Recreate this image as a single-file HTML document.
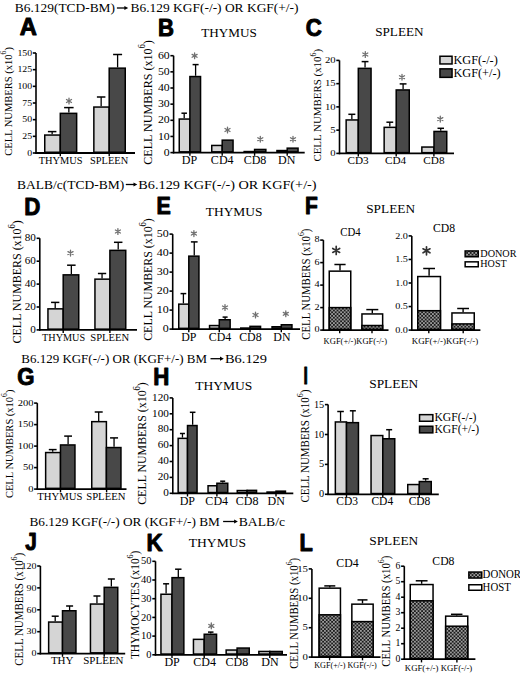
<!DOCTYPE html><html><head><meta charset="utf-8"><style>html,body{margin:0;padding:0;background:#fff;}svg{display:block;} text{stroke:none;}</style></head><body>
<svg width="520" height="673" viewBox="0 0 520 673">
<defs><pattern id="hatch" width="3.6" height="3.6" patternUnits="userSpaceOnUse"><rect width="3.6" height="3.6" fill="#1c1c1c"/><rect width="1.8" height="1.8" fill="#9a9a9a"/><rect x="1.8" y="1.8" width="1.8" height="1.8" fill="#9a9a9a"/></pattern></defs>
<rect width="520" height="673" fill="#fff"/>
<text transform="translate(14.8,12.3) scale(1,1.0)" font-size="13.5" text-anchor="start" font-family='"Liberation Serif", serif' font-weight="normal" fill="#000"  textLength="100.2" lengthAdjust="spacingAndGlyphs">B6.129(TCD-BM)</text>
<line x1="116.9" y1="8.0" x2="125.19999999999999" y2="8.0" stroke="#000" stroke-width="1.3"/>
<path d="M124.40,5.90L128.20,8.00L124.40,10.10Z" fill="#000"/>
<text transform="translate(130.6,12.3) scale(1,1.0)" font-size="13.5" text-anchor="start" font-family='"Liberation Serif", serif' font-weight="normal" fill="#000"  textLength="167.9" lengthAdjust="spacingAndGlyphs">B6.129 KGF(-/-) OR KGF(+/-)</text>
<text transform="translate(19.72,35.00) scale(1.019,1)" font-size="23.27" font-family='"Liberation Sans", sans-serif' font-weight="bold" style="stroke:#000;stroke-width:1.0px;stroke-linejoin:round">A</text>
<line x1="36" y1="53.0" x2="36" y2="153.8" stroke="#000" stroke-width="1.6"/>
<line x1="32.8" y1="153.0" x2="36" y2="153.0" stroke="#000" stroke-width="1.6"/>
<text transform="translate(32.10,155.64) scale(1,0.92)" font-size="9.8" text-anchor="end" font-family='"Liberation Serif", serif' font-weight="normal" fill="#000" >0</text>
<line x1="32.8" y1="136.33333333333334" x2="36" y2="136.33333333333334" stroke="#000" stroke-width="1.6"/>
<text transform="translate(32.10,138.98) scale(1,0.92)" font-size="9.8" text-anchor="end" font-family='"Liberation Serif", serif' font-weight="normal" fill="#000" >25</text>
<line x1="32.8" y1="119.66666666666667" x2="36" y2="119.66666666666667" stroke="#000" stroke-width="1.6"/>
<text transform="translate(32.10,122.31) scale(1,0.92)" font-size="9.8" text-anchor="end" font-family='"Liberation Serif", serif' font-weight="normal" fill="#000" >50</text>
<line x1="32.8" y1="103.0" x2="36" y2="103.0" stroke="#000" stroke-width="1.6"/>
<text transform="translate(32.10,105.64) scale(1,0.92)" font-size="9.8" text-anchor="end" font-family='"Liberation Serif", serif' font-weight="normal" fill="#000" >75</text>
<line x1="32.8" y1="86.33333333333334" x2="36" y2="86.33333333333334" stroke="#000" stroke-width="1.6"/>
<text transform="translate(32.10,88.98) scale(1,0.92)" font-size="9.8" text-anchor="end" font-family='"Liberation Serif", serif' font-weight="normal" fill="#000" >100</text>
<line x1="32.8" y1="69.66666666666667" x2="36" y2="69.66666666666667" stroke="#000" stroke-width="1.6"/>
<text transform="translate(32.10,72.31) scale(1,0.92)" font-size="9.8" text-anchor="end" font-family='"Liberation Serif", serif' font-weight="normal" fill="#000" >125</text>
<line x1="32.8" y1="53.0" x2="36" y2="53.0" stroke="#000" stroke-width="1.6"/>
<text transform="translate(32.10,55.64) scale(1,0.92)" font-size="9.8" text-anchor="end" font-family='"Liberation Serif", serif' font-weight="normal" fill="#000" >150</text>
<rect x="44.75" y="135.05" width="15.55" height="17.20" fill="#d5d5d5" stroke="#000" stroke-width="1.5"/><line x1="52.15" y1="134.3" x2="52.15" y2="131.6" stroke="#000" stroke-width="1.3"/><line x1="47.90" y1="131.6" x2="56.40" y2="131.6" stroke="#000" stroke-width="1.5"/>
<rect x="60.30" y="113.35" width="16.35" height="38.90" fill="#484848" stroke="#000" stroke-width="1.5"/><line x1="68.85" y1="112.6" x2="68.85" y2="107.6" stroke="#000" stroke-width="1.3"/><line x1="64.10" y1="107.6" x2="73.60" y2="107.6" stroke="#000" stroke-width="1.5"/>
<rect x="93.85" y="107.05" width="15.35" height="45.20" fill="#d5d5d5" stroke="#000" stroke-width="1.5"/><line x1="101.15" y1="106.3" x2="101.15" y2="97" stroke="#000" stroke-width="1.3"/><line x1="96.90" y1="97" x2="105.40" y2="97" stroke="#000" stroke-width="1.5"/>
<rect x="109.20" y="68.15" width="16.05" height="84.10" fill="#484848" stroke="#000" stroke-width="1.5"/><line x1="117.60" y1="67.4" x2="117.60" y2="54.5" stroke="#000" stroke-width="1.3"/><line x1="113.10" y1="54.5" x2="122.10" y2="54.5" stroke="#000" stroke-width="1.5"/>
<line x1="35.2" y1="153" x2="135" y2="153" stroke="#000" stroke-width="1.8"/>
<line x1="60.3" y1="153" x2="60.3" y2="156.2" stroke="#000" stroke-width="1.4"/>
<line x1="109.2" y1="153" x2="109.2" y2="156.2" stroke="#000" stroke-width="1.4"/>
<path d="M69.00,98.10L69.00,103.90M66.49,99.55L71.51,102.45M66.49,102.45L71.51,99.55" stroke="#707070" stroke-width="1.3" stroke-linecap="round" fill="none"/>
<text transform="translate(60.7,163.5) scale(1,1.0)" font-size="10.4" text-anchor="middle" font-family='"Liberation Serif", serif' font-weight="normal" fill="#000" >THYMUS</text>
<text transform="translate(109.1,163.5) scale(1,1.0)" font-size="10.4" text-anchor="middle" font-family='"Liberation Serif", serif' font-weight="normal" fill="#000" >SPLEEN</text>
<g transform="translate(8.00,101.45) rotate(-90) scale(1,1.03)">
<text x="0" y="3.47" font-size="10.53" text-anchor="middle" font-family='"Liberation Serif", serif' textLength="108.70" lengthAdjust="spacingAndGlyphs">CELL NUMBERS (x10<tspan font-size="7.58" dy="-5.05">6</tspan><tspan dy="5.05">)</tspan></text>
</g>
<text transform="translate(157.88,36.00) scale(0.931,1)" font-size="23.71" font-family='"Liberation Sans", sans-serif' font-weight="bold" style="stroke:#000;stroke-width:1.0px;stroke-linejoin:round">B</text>
<text transform="translate(201.27,36.7) scale(1,0.997)" font-size="13.17" text-anchor="start" font-family='"Liberation Serif", serif' font-weight="normal" fill="#000" >THYMUS</text>
<line x1="173.6" y1="55.7" x2="173.6" y2="153.4" stroke="#000" stroke-width="1.6"/>
<line x1="170.4" y1="152.6" x2="173.6" y2="152.6" stroke="#000" stroke-width="1.6"/>
<text transform="translate(169.70,155.66) scale(1,0.87)" font-size="11.8" text-anchor="end" font-family='"Liberation Serif", serif' font-weight="normal" fill="#000" >0</text>
<line x1="170.4" y1="136.45" x2="173.6" y2="136.45" stroke="#000" stroke-width="1.6"/>
<text transform="translate(169.70,139.51) scale(1,0.87)" font-size="11.8" text-anchor="end" font-family='"Liberation Serif", serif' font-weight="normal" fill="#000" >10</text>
<line x1="170.4" y1="120.3" x2="173.6" y2="120.3" stroke="#000" stroke-width="1.6"/>
<text transform="translate(169.70,123.36) scale(1,0.87)" font-size="11.8" text-anchor="end" font-family='"Liberation Serif", serif' font-weight="normal" fill="#000" >20</text>
<line x1="170.4" y1="104.15" x2="173.6" y2="104.15" stroke="#000" stroke-width="1.6"/>
<text transform="translate(169.70,107.21) scale(1,0.87)" font-size="11.8" text-anchor="end" font-family='"Liberation Serif", serif' font-weight="normal" fill="#000" >30</text>
<line x1="170.4" y1="88.0" x2="173.6" y2="88.0" stroke="#000" stroke-width="1.6"/>
<text transform="translate(169.70,91.06) scale(1,0.87)" font-size="11.8" text-anchor="end" font-family='"Liberation Serif", serif' font-weight="normal" fill="#000" >40</text>
<line x1="170.4" y1="71.85000000000001" x2="173.6" y2="71.85000000000001" stroke="#000" stroke-width="1.6"/>
<text transform="translate(169.70,74.91) scale(1,0.87)" font-size="11.8" text-anchor="end" font-family='"Liberation Serif", serif' font-weight="normal" fill="#000" >50</text>
<line x1="170.4" y1="55.7" x2="173.6" y2="55.7" stroke="#000" stroke-width="1.6"/>
<text transform="translate(169.70,58.76) scale(1,0.87)" font-size="11.8" text-anchor="end" font-family='"Liberation Serif", serif' font-weight="normal" fill="#000" >60</text>
<rect x="179.25" y="119.05" width="10.65" height="32.80" fill="#d5d5d5" stroke="#000" stroke-width="1.5"/><line x1="184.20" y1="118.3" x2="184.20" y2="113.2" stroke="#000" stroke-width="1.3"/><line x1="181.45" y1="113.2" x2="186.95" y2="113.2" stroke="#000" stroke-width="1.5"/>
<rect x="189.90" y="76.55" width="10.65" height="75.30" fill="#484848" stroke="#000" stroke-width="1.5"/><line x1="195.60" y1="75.8" x2="195.60" y2="64.6" stroke="#000" stroke-width="1.3"/><line x1="192.60" y1="64.6" x2="198.60" y2="64.6" stroke="#000" stroke-width="1.5"/>
<rect x="211.75" y="145.45" width="10.45" height="6.40" fill="#d5d5d5" stroke="#000" stroke-width="1.5"/>
<rect x="222.20" y="140.15" width="10.85" height="11.70" fill="#484848" stroke="#000" stroke-width="1.5"/>
<rect x="244.15" y="151.55" width="10.45" height="0.30" fill="#d5d5d5" stroke="#000" stroke-width="1.5"/>
<rect x="254.60" y="149.45" width="11.25" height="2.40" fill="#484848" stroke="#000" stroke-width="1.5"/>
<rect x="276.95" y="150.55" width="10.25" height="1.30" fill="#d5d5d5" stroke="#000" stroke-width="1.5"/>
<rect x="287.20" y="148.15" width="10.85" height="3.70" fill="#484848" stroke="#000" stroke-width="1.5"/>
<line x1="172.79999999999998" y1="152.6" x2="304.7" y2="152.6" stroke="#000" stroke-width="1.8"/>
<line x1="189.9" y1="152.6" x2="189.9" y2="155.79999999999998" stroke="#000" stroke-width="1.4"/>
<line x1="222.2" y1="152.6" x2="222.2" y2="155.79999999999998" stroke="#000" stroke-width="1.4"/>
<line x1="254.6" y1="152.6" x2="254.6" y2="155.79999999999998" stroke="#000" stroke-width="1.4"/>
<line x1="287.2" y1="152.6" x2="287.2" y2="155.79999999999998" stroke="#000" stroke-width="1.4"/>
<path d="M194.60,52.90L194.60,58.70M192.09,54.35L197.11,57.25M192.09,57.25L197.11,54.35" stroke="#707070" stroke-width="1.3" stroke-linecap="round" fill="none"/>
<path d="M227.50,127.10L227.50,132.90M224.99,128.55L230.01,131.45M224.99,131.45L230.01,128.55" stroke="#707070" stroke-width="1.3" stroke-linecap="round" fill="none"/>
<path d="M260.30,136.30L260.30,142.10M257.79,137.75L262.81,140.65M257.79,140.65L262.81,137.75" stroke="#707070" stroke-width="1.3" stroke-linecap="round" fill="none"/>
<path d="M293.00,136.30L293.00,142.10M290.49,137.75L295.51,140.65M290.49,140.65L295.51,137.75" stroke="#707070" stroke-width="1.3" stroke-linecap="round" fill="none"/>
<text transform="translate(189.5,164.2) scale(1,1.0)" font-size="12" text-anchor="middle" font-family='"Liberation Serif", serif' font-weight="normal" fill="#000" >DP</text>
<text transform="translate(222.2,164.2) scale(1,1.0)" font-size="12" text-anchor="middle" font-family='"Liberation Serif", serif' font-weight="normal" fill="#000" >CD4</text>
<text transform="translate(255,164.2) scale(1,1.0)" font-size="12" text-anchor="middle" font-family='"Liberation Serif", serif' font-weight="normal" fill="#000" >CD8</text>
<text transform="translate(286.7,164.2) scale(1,1.0)" font-size="12" text-anchor="middle" font-family='"Liberation Serif", serif' font-weight="normal" fill="#000" >DN</text>
<g transform="translate(147.40,102.40) rotate(-90) scale(1,1.12)">
<text x="0" y="3.98" font-size="12.07" text-anchor="middle" font-family='"Liberation Serif", serif' textLength="124.60" lengthAdjust="spacingAndGlyphs">CELL NUMBERS (x10<tspan font-size="8.69" dy="-5.79">6</tspan><tspan dy="5.79">)</tspan></text>
</g>
<text transform="translate(305.77,35.76) scale(0.926,1)" font-size="24.03" font-family='"Liberation Sans", sans-serif' font-weight="bold" style="stroke:#000;stroke-width:1.0px;stroke-linejoin:round">C</text>
<text transform="translate(375.21,35.6) scale(1,0.927)" font-size="13.19" text-anchor="start" font-family='"Liberation Serif", serif' font-weight="normal" fill="#000" >SPLEEN</text>
<line x1="339.5" y1="60.400000000000006" x2="339.5" y2="154.20000000000002" stroke="#000" stroke-width="1.6"/>
<line x1="336.3" y1="153.4" x2="339.5" y2="153.4" stroke="#000" stroke-width="1.6"/>
<text transform="translate(335.60,156.07) scale(1,0.85)" font-size="10.7" text-anchor="end" font-family='"Liberation Serif", serif' font-weight="normal" fill="#000" >0</text>
<line x1="336.3" y1="130.15" x2="339.5" y2="130.15" stroke="#000" stroke-width="1.6"/>
<text transform="translate(335.60,132.82) scale(1,0.85)" font-size="10.7" text-anchor="end" font-family='"Liberation Serif", serif' font-weight="normal" fill="#000" >5</text>
<line x1="336.3" y1="106.9" x2="339.5" y2="106.9" stroke="#000" stroke-width="1.6"/>
<text transform="translate(335.60,109.57) scale(1,0.85)" font-size="10.7" text-anchor="end" font-family='"Liberation Serif", serif' font-weight="normal" fill="#000" >10</text>
<line x1="336.3" y1="83.65" x2="339.5" y2="83.65" stroke="#000" stroke-width="1.6"/>
<text transform="translate(335.60,86.32) scale(1,0.85)" font-size="10.7" text-anchor="end" font-family='"Liberation Serif", serif' font-weight="normal" fill="#000" >15</text>
<line x1="336.3" y1="60.400000000000006" x2="339.5" y2="60.400000000000006" stroke="#000" stroke-width="1.6"/>
<text transform="translate(335.60,63.07) scale(1,0.85)" font-size="10.7" text-anchor="end" font-family='"Liberation Serif", serif' font-weight="normal" fill="#000" >20</text>
<rect x="346.15" y="119.95" width="12.15" height="32.70" fill="#d5d5d5" stroke="#000" stroke-width="1.5"/><line x1="351.85" y1="119.2" x2="351.85" y2="114.3" stroke="#000" stroke-width="1.3"/><line x1="348.35" y1="114.3" x2="355.35" y2="114.3" stroke="#000" stroke-width="1.5"/>
<rect x="358.30" y="68.35" width="12.75" height="84.30" fill="#484848" stroke="#000" stroke-width="1.5"/><line x1="365.05" y1="67.6" x2="365.05" y2="61.6" stroke="#000" stroke-width="1.3"/><line x1="361.65" y1="61.6" x2="368.45" y2="61.6" stroke="#000" stroke-width="1.5"/>
<rect x="384.15" y="127.35" width="12.05" height="25.30" fill="#d5d5d5" stroke="#000" stroke-width="1.5"/><line x1="389.80" y1="126.6" x2="389.80" y2="122.2" stroke="#000" stroke-width="1.3"/><line x1="386.40" y1="122.2" x2="393.20" y2="122.2" stroke="#000" stroke-width="1.5"/>
<rect x="396.20" y="89.95" width="13.05" height="62.70" fill="#484848" stroke="#000" stroke-width="1.5"/><line x1="403.10" y1="89.2" x2="403.10" y2="83.9" stroke="#000" stroke-width="1.3"/><line x1="399.70" y1="83.9" x2="406.50" y2="83.9" stroke="#000" stroke-width="1.5"/>
<rect x="421.85" y="147.05" width="12.15" height="5.60" fill="#d5d5d5" stroke="#000" stroke-width="1.5"/>
<rect x="434.00" y="131.45" width="12.75" height="21.20" fill="#484848" stroke="#000" stroke-width="1.5"/><line x1="440.75" y1="130.7" x2="440.75" y2="128.3" stroke="#000" stroke-width="1.3"/><line x1="437.50" y1="128.3" x2="444.00" y2="128.3" stroke="#000" stroke-width="1.5"/>
<line x1="338.8" y1="153.4" x2="454" y2="153.4" stroke="#000" stroke-width="1.8"/>
<line x1="358.3" y1="153.4" x2="358.3" y2="156.6" stroke="#000" stroke-width="1.4"/>
<line x1="396.2" y1="153.4" x2="396.2" y2="156.6" stroke="#000" stroke-width="1.4"/>
<line x1="433.9" y1="153.4" x2="433.9" y2="156.6" stroke="#000" stroke-width="1.4"/>
<path d="M365.30,51.60L365.30,57.40M362.79,53.05L367.81,55.95M362.79,55.95L367.81,53.05" stroke="#707070" stroke-width="1.3" stroke-linecap="round" fill="none"/>
<path d="M402.00,74.30L402.00,80.10M399.49,75.75L404.51,78.65M399.49,78.65L404.51,75.75" stroke="#707070" stroke-width="1.3" stroke-linecap="round" fill="none"/>
<path d="M440.30,116.20L440.30,122.00M437.79,117.65L442.81,120.55M437.79,120.55L442.81,117.65" stroke="#707070" stroke-width="1.3" stroke-linecap="round" fill="none"/>
<text transform="translate(358,164.4) scale(1,1.0)" font-size="11.2" text-anchor="middle" font-family='"Liberation Serif", serif' font-weight="normal" fill="#000" >CD3</text>
<text transform="translate(395.6,164.4) scale(1,1.0)" font-size="11.2" text-anchor="middle" font-family='"Liberation Serif", serif' font-weight="normal" fill="#000" >CD4</text>
<text transform="translate(433.9,164.4) scale(1,1.0)" font-size="11.2" text-anchor="middle" font-family='"Liberation Serif", serif' font-weight="normal" fill="#000" >CD8</text>
<rect x="439.95" y="56.25" width="12.10" height="7.70" fill="#d5d5d5" stroke="#000" stroke-width="1.5"/>
<rect x="439.95" y="68.85" width="12.10" height="8.50" fill="#484848" stroke="#000" stroke-width="1.5"/>
<text transform="translate(453.4,64.2) scale(1,1.0)" font-size="12.3" text-anchor="start" font-family='"Liberation Serif", serif' font-weight="normal" fill="#000" >KGF(-/-)</text>
<text transform="translate(453.4,76.6) scale(1,1.0)" font-size="12.3" text-anchor="start" font-family='"Liberation Serif", serif' font-weight="normal" fill="#000" >KGF(+/-)</text>
<g transform="translate(317.40,105.25) rotate(-90) scale(1,1.03)">
<text x="0" y="3.60" font-size="10.92" text-anchor="middle" font-family='"Liberation Serif", serif' textLength="112.70" lengthAdjust="spacingAndGlyphs">CELL NUMBERS (x10<tspan font-size="7.86" dy="-5.24">6</tspan><tspan dy="5.24">)</tspan></text>
</g>
<text transform="translate(17,188.8) scale(1,1.0)" font-size="13.5" text-anchor="start" font-family='"Liberation Serif", serif' font-weight="normal" fill="#000"  textLength="107.2" lengthAdjust="spacingAndGlyphs">BALB/c(TCD-BM)</text>
<line x1="125.8" y1="184.5" x2="134.3" y2="184.5" stroke="#000" stroke-width="1.3"/>
<path d="M133.50,182.40L137.30,184.50L133.50,186.60Z" fill="#000"/>
<text transform="translate(138.3,188.8) scale(1,1.0)" font-size="13.5" text-anchor="start" font-family='"Liberation Serif", serif' font-weight="normal" fill="#000"  textLength="178.3" lengthAdjust="spacingAndGlyphs">B6.129 KGF(-/-) OR KGF(+/-)</text>
<text transform="translate(24.16,214.80) scale(0.935,1)" font-size="23.85" font-family='"Liberation Sans", sans-serif' font-weight="bold" style="stroke:#000;stroke-width:1.0px;stroke-linejoin:round">D</text>
<line x1="39.8" y1="238.29999999999998" x2="39.8" y2="330.7" stroke="#000" stroke-width="1.6"/>
<line x1="36.599999999999994" y1="329.9" x2="39.8" y2="329.9" stroke="#000" stroke-width="1.6"/>
<text transform="translate(35.90,332.83) scale(1,0.88)" font-size="11.2" text-anchor="end" font-family='"Liberation Serif", serif' font-weight="normal" fill="#000" >0</text>
<line x1="36.599999999999994" y1="307.0" x2="39.8" y2="307.0" stroke="#000" stroke-width="1.6"/>
<text transform="translate(35.90,309.93) scale(1,0.88)" font-size="11.2" text-anchor="end" font-family='"Liberation Serif", serif' font-weight="normal" fill="#000" >20</text>
<line x1="36.599999999999994" y1="284.09999999999997" x2="39.8" y2="284.09999999999997" stroke="#000" stroke-width="1.6"/>
<text transform="translate(35.90,287.03) scale(1,0.88)" font-size="11.2" text-anchor="end" font-family='"Liberation Serif", serif' font-weight="normal" fill="#000" >40</text>
<line x1="36.599999999999994" y1="261.2" x2="39.8" y2="261.2" stroke="#000" stroke-width="1.6"/>
<text transform="translate(35.90,264.13) scale(1,0.88)" font-size="11.2" text-anchor="end" font-family='"Liberation Serif", serif' font-weight="normal" fill="#000" >60</text>
<line x1="36.599999999999994" y1="238.29999999999998" x2="39.8" y2="238.29999999999998" stroke="#000" stroke-width="1.6"/>
<text transform="translate(35.90,241.23) scale(1,0.88)" font-size="11.2" text-anchor="end" font-family='"Liberation Serif", serif' font-weight="normal" fill="#000" >80</text>
<rect x="47.95" y="308.85" width="15.25" height="20.30" fill="#d5d5d5" stroke="#000" stroke-width="1.5"/><line x1="55.20" y1="308.1" x2="55.20" y2="302.4" stroke="#000" stroke-width="1.3"/><line x1="51.05" y1="302.4" x2="59.35" y2="302.4" stroke="#000" stroke-width="1.5"/>
<rect x="63.20" y="274.85" width="15.55" height="54.30" fill="#484848" stroke="#000" stroke-width="1.5"/><line x1="71.35" y1="274.1" x2="71.35" y2="265.2" stroke="#000" stroke-width="1.3"/><line x1="67.10" y1="265.2" x2="75.60" y2="265.2" stroke="#000" stroke-width="1.5"/>
<rect x="94.95" y="279.15" width="14.95" height="50.00" fill="#d5d5d5" stroke="#000" stroke-width="1.5"/><line x1="102.05" y1="278.4" x2="102.05" y2="273.5" stroke="#000" stroke-width="1.3"/><line x1="97.90" y1="273.5" x2="106.20" y2="273.5" stroke="#000" stroke-width="1.5"/>
<rect x="109.90" y="250.35" width="15.85" height="78.80" fill="#484848" stroke="#000" stroke-width="1.5"/><line x1="118.20" y1="249.6" x2="118.20" y2="242.3" stroke="#000" stroke-width="1.3"/><line x1="113.95" y1="242.3" x2="122.45" y2="242.3" stroke="#000" stroke-width="1.5"/>
<line x1="39.0" y1="329.9" x2="137" y2="329.9" stroke="#000" stroke-width="1.8"/>
<line x1="63.2" y1="329.9" x2="63.2" y2="333.09999999999997" stroke="#000" stroke-width="1.4"/>
<line x1="109.9" y1="329.9" x2="109.9" y2="333.09999999999997" stroke="#000" stroke-width="1.4"/>
<path d="M70.50,250.20L70.50,256.00M67.99,251.65L73.01,254.55M67.99,254.55L73.01,251.65" stroke="#707070" stroke-width="1.3" stroke-linecap="round" fill="none"/>
<path d="M117.90,228.60L117.90,234.40M115.39,230.05L120.41,232.95M115.39,232.95L120.41,230.05" stroke="#707070" stroke-width="1.3" stroke-linecap="round" fill="none"/>
<text transform="translate(63.6,341.1) scale(1,1.0)" font-size="10.2" text-anchor="middle" font-family='"Liberation Serif", serif' font-weight="normal" fill="#000" >THYMUS</text>
<text transform="translate(109.75,341.1) scale(1,1.0)" font-size="10.6" text-anchor="middle" font-family='"Liberation Serif", serif' font-weight="normal" fill="#000" >SPLEEN</text>
<g transform="translate(16.50,281.80) rotate(-90) scale(1,1.12)">
<text x="0" y="3.94" font-size="11.93" text-anchor="middle" font-family='"Liberation Serif", serif' textLength="123.20" lengthAdjust="spacingAndGlyphs">CELL NUMBERS (x10<tspan font-size="8.59" dy="-5.73">6</tspan><tspan dy="5.73">)</tspan></text>
</g>
<text transform="translate(156.61,213.50) scale(0.914,1)" font-size="23.42" font-family='"Liberation Sans", sans-serif' font-weight="bold" style="stroke:#000;stroke-width:1.0px;stroke-linejoin:round">E</text>
<text transform="translate(205.77,215.5) scale(1,0.911)" font-size="13.41" text-anchor="start" font-family='"Liberation Serif", serif' font-weight="normal" fill="#000" >THYMUS</text>
<line x1="172.7" y1="234.10000000000002" x2="172.7" y2="329.90000000000003" stroke="#000" stroke-width="1.6"/>
<line x1="169.5" y1="329.1" x2="172.7" y2="329.1" stroke="#000" stroke-width="1.6"/>
<text transform="translate(168.80,332.18) scale(1,0.86)" font-size="12.0" text-anchor="end" font-family='"Liberation Serif", serif' font-weight="normal" fill="#000" >0</text>
<line x1="169.5" y1="310.1" x2="172.7" y2="310.1" stroke="#000" stroke-width="1.6"/>
<text transform="translate(168.80,313.18) scale(1,0.86)" font-size="12.0" text-anchor="end" font-family='"Liberation Serif", serif' font-weight="normal" fill="#000" >10</text>
<line x1="169.5" y1="291.1" x2="172.7" y2="291.1" stroke="#000" stroke-width="1.6"/>
<text transform="translate(168.80,294.18) scale(1,0.86)" font-size="12.0" text-anchor="end" font-family='"Liberation Serif", serif' font-weight="normal" fill="#000" >20</text>
<line x1="169.5" y1="272.1" x2="172.7" y2="272.1" stroke="#000" stroke-width="1.6"/>
<text transform="translate(168.80,275.18) scale(1,0.86)" font-size="12.0" text-anchor="end" font-family='"Liberation Serif", serif' font-weight="normal" fill="#000" >30</text>
<line x1="169.5" y1="253.10000000000002" x2="172.7" y2="253.10000000000002" stroke="#000" stroke-width="1.6"/>
<text transform="translate(168.80,256.18) scale(1,0.86)" font-size="12.0" text-anchor="end" font-family='"Liberation Serif", serif' font-weight="normal" fill="#000" >40</text>
<line x1="169.5" y1="234.10000000000002" x2="172.7" y2="234.10000000000002" stroke="#000" stroke-width="1.6"/>
<text transform="translate(168.80,237.18) scale(1,0.86)" font-size="12.0" text-anchor="end" font-family='"Liberation Serif", serif' font-weight="normal" fill="#000" >50</text>
<rect x="178.75" y="304.15" width="10.05" height="24.20" fill="#d5d5d5" stroke="#000" stroke-width="1.5"/><line x1="183.40" y1="303.4" x2="183.40" y2="293.6" stroke="#000" stroke-width="1.3"/><line x1="180.55" y1="293.6" x2="186.25" y2="293.6" stroke="#000" stroke-width="1.5"/>
<rect x="188.80" y="256.15" width="10.15" height="72.20" fill="#484848" stroke="#000" stroke-width="1.5"/><line x1="194.25" y1="255.4" x2="194.25" y2="241.9" stroke="#000" stroke-width="1.3"/><line x1="190.90" y1="241.9" x2="197.60" y2="241.9" stroke="#000" stroke-width="1.5"/>
<rect x="209.55" y="325.55" width="9.75" height="2.80" fill="#d5d5d5" stroke="#000" stroke-width="1.5"/>
<rect x="219.30" y="319.75" width="10.85" height="8.60" fill="#484848" stroke="#000" stroke-width="1.5"/><line x1="225.10" y1="319" x2="225.10" y2="317.1" stroke="#000" stroke-width="1.3"/><line x1="222.60" y1="317.1" x2="227.60" y2="317.1" stroke="#000" stroke-width="1.5"/>
<rect x="240.75" y="328.05" width="9.25" height="0.30" fill="#d5d5d5" stroke="#000" stroke-width="1.5"/>
<rect x="250.00" y="326.35" width="10.55" height="2.00" fill="#484848" stroke="#000" stroke-width="1.5"/>
<rect x="272.05" y="326.75" width="9.25" height="1.60" fill="#d5d5d5" stroke="#000" stroke-width="1.5"/>
<rect x="281.30" y="324.75" width="10.65" height="3.60" fill="#484848" stroke="#000" stroke-width="1.5"/>
<line x1="171.89999999999998" y1="329.1" x2="300" y2="329.1" stroke="#000" stroke-width="1.8"/>
<line x1="188.8" y1="329.1" x2="188.8" y2="332.3" stroke="#000" stroke-width="1.4"/>
<line x1="219.3" y1="329.1" x2="219.3" y2="332.3" stroke="#000" stroke-width="1.4"/>
<line x1="250" y1="329.1" x2="250" y2="332.3" stroke="#000" stroke-width="1.4"/>
<line x1="281.3" y1="329.1" x2="281.3" y2="332.3" stroke="#000" stroke-width="1.4"/>
<path d="M193.90,230.70L193.90,236.50M191.39,232.15L196.41,235.05M191.39,235.05L196.41,232.15" stroke="#707070" stroke-width="1.3" stroke-linecap="round" fill="none"/>
<path d="M225.00,304.60L225.00,310.40M222.49,306.05L227.51,308.95M222.49,308.95L227.51,306.05" stroke="#707070" stroke-width="1.3" stroke-linecap="round" fill="none"/>
<path d="M255.50,312.10L255.50,317.90M252.99,313.55L258.01,316.45M252.99,316.45L258.01,313.55" stroke="#707070" stroke-width="1.3" stroke-linecap="round" fill="none"/>
<path d="M285.80,310.90L285.80,316.70M283.29,312.35L288.31,315.25M283.29,315.25L288.31,312.35" stroke="#707070" stroke-width="1.3" stroke-linecap="round" fill="none"/>
<text transform="translate(188.8,340.5) scale(1,1.0)" font-size="11.9" text-anchor="middle" font-family='"Liberation Serif", serif' font-weight="normal" fill="#000" >DP</text>
<text transform="translate(220,340.5) scale(1,1.0)" font-size="11.9" text-anchor="middle" font-family='"Liberation Serif", serif' font-weight="normal" fill="#000" >CD4</text>
<text transform="translate(250.4,340.5) scale(1,1.0)" font-size="11.9" text-anchor="middle" font-family='"Liberation Serif", serif' font-weight="normal" fill="#000" >CD8</text>
<text transform="translate(281.9,340.5) scale(1,1.0)" font-size="11.9" text-anchor="middle" font-family='"Liberation Serif", serif' font-weight="normal" fill="#000" >DN</text>
<g transform="translate(147.50,279.50) rotate(-90) scale(1,1.12)">
<text x="0" y="3.92" font-size="11.88" text-anchor="middle" font-family='"Liberation Serif", serif' textLength="122.60" lengthAdjust="spacingAndGlyphs">CELL NUMBERS (x10<tspan font-size="8.55" dy="-5.70">6</tspan><tspan dy="5.70">)</tspan></text>
</g>
<text transform="translate(305.02,213.60) scale(0.873,1)" font-size="24.00" font-family='"Liberation Sans", sans-serif' font-weight="bold" style="stroke:#000;stroke-width:1.0px;stroke-linejoin:round">F</text>
<text transform="translate(366.2,212.8) scale(1,0.872)" font-size="13.33" text-anchor="start" font-family='"Liberation Serif", serif' font-weight="normal" fill="#000" >SPLEEN</text>
<text transform="translate(350.45,235.6) scale(1,1.07)" font-size="10.8" text-anchor="middle" font-family='"Liberation Serif", serif' font-weight="normal" fill="#000" >CD4</text>
<line x1="323.4" y1="240.10000000000002" x2="323.4" y2="330.90000000000003" stroke="#000" stroke-width="1.6"/>
<line x1="320.2" y1="330.1" x2="323.4" y2="330.1" stroke="#000" stroke-width="1.6"/>
<text transform="translate(319.50,332.45) scale(1,0.8)" font-size="10.2" text-anchor="end" font-family='"Liberation Serif", serif' font-weight="normal" fill="#000" >0</text>
<line x1="320.2" y1="307.6" x2="323.4" y2="307.6" stroke="#000" stroke-width="1.6"/>
<text transform="translate(319.50,309.95) scale(1,0.8)" font-size="10.2" text-anchor="end" font-family='"Liberation Serif", serif' font-weight="normal" fill="#000" >2</text>
<line x1="320.2" y1="285.1" x2="323.4" y2="285.1" stroke="#000" stroke-width="1.6"/>
<text transform="translate(319.50,287.45) scale(1,0.8)" font-size="10.2" text-anchor="end" font-family='"Liberation Serif", serif' font-weight="normal" fill="#000" >4</text>
<line x1="320.2" y1="262.6" x2="323.4" y2="262.6" stroke="#000" stroke-width="1.6"/>
<text transform="translate(319.50,264.95) scale(1,0.8)" font-size="10.2" text-anchor="end" font-family='"Liberation Serif", serif' font-weight="normal" fill="#000" >6</text>
<line x1="320.2" y1="240.10000000000002" x2="323.4" y2="240.10000000000002" stroke="#000" stroke-width="1.6"/>
<text transform="translate(319.50,242.45) scale(1,0.8)" font-size="10.2" text-anchor="end" font-family='"Liberation Serif", serif' font-weight="normal" fill="#000" >8</text>
<rect x="329.25" y="271.15" width="21.50" height="58.20" fill="#fff" stroke="#000" stroke-width="1.5"/>
<rect x="329.25" y="307.60" width="21.50" height="21.75" fill="url(#hatch)" stroke="#000" stroke-width="1.5"/>
<line x1="340.0" y1="270.4" x2="340.0" y2="264.5" stroke="#000" stroke-width="1.4"/>
<line x1="334.4" y1="264.5" x2="345.6" y2="264.5" stroke="#000" stroke-width="1.5"/>
<rect x="361.95" y="313.95" width="20.70" height="15.40" fill="#fff" stroke="#000" stroke-width="1.5"/>
<rect x="361.95" y="325.50" width="20.70" height="3.85" fill="url(#hatch)" stroke="#000" stroke-width="1.5"/>
<line x1="372.29999999999995" y1="313.2" x2="372.29999999999995" y2="309.6" stroke="#000" stroke-width="1.4"/>
<line x1="366.29999999999995" y1="309.6" x2="378.29999999999995" y2="309.6" stroke="#000" stroke-width="1.5"/>
<line x1="322.59999999999997" y1="330.1" x2="388.5" y2="330.1" stroke="#000" stroke-width="1.8"/>
<line x1="339.7" y1="330.1" x2="339.7" y2="333.3" stroke="#000" stroke-width="1.4"/>
<line x1="372" y1="330.1" x2="372" y2="333.3" stroke="#000" stroke-width="1.4"/>
<path d="M336.20,246.40L336.20,254.40M332.74,248.40L339.66,252.40M332.74,252.40L339.66,248.40" stroke="#333" stroke-width="1.7" stroke-linecap="round" fill="none"/>
<text transform="translate(323.6,344) scale(1,1.0)" font-size="8.8" text-anchor="start" font-family='"Liberation Serif", serif' font-weight="normal" fill="#000"  textLength="63.4" lengthAdjust="spacingAndGlyphs">KGF(+/-)KGF(-/-)</text>
<g transform="translate(306.00,284.15) rotate(-90) scale(1,1.12)">
<text x="0" y="3.55" font-size="10.76" text-anchor="middle" font-family='"Liberation Serif", serif' textLength="111.10" lengthAdjust="spacingAndGlyphs">CELL NUMBERS (x10<tspan font-size="7.75" dy="-5.17">6</tspan><tspan dy="5.17">)</tspan></text>
</g>
<text transform="translate(444.0,231.6) scale(1,0.98)" font-size="11.7" text-anchor="middle" font-family='"Liberation Serif", serif' font-weight="normal" fill="#000" >CD8</text>
<line x1="411.8" y1="235.90000000000003" x2="411.8" y2="330.90000000000003" stroke="#000" stroke-width="1.6"/>
<line x1="408.6" y1="330.1" x2="411.8" y2="330.1" stroke="#000" stroke-width="1.6"/>
<text transform="translate(407.90,332.80) scale(1,0.9)" font-size="10.2" text-anchor="end" font-family='"Liberation Serif", serif' font-weight="normal" fill="#000" >0.0</text>
<line x1="408.6" y1="306.55" x2="411.8" y2="306.55" stroke="#000" stroke-width="1.6"/>
<text transform="translate(407.90,309.25) scale(1,0.9)" font-size="10.2" text-anchor="end" font-family='"Liberation Serif", serif' font-weight="normal" fill="#000" >0.5</text>
<line x1="408.6" y1="283.0" x2="411.8" y2="283.0" stroke="#000" stroke-width="1.6"/>
<text transform="translate(407.90,285.70) scale(1,0.9)" font-size="10.2" text-anchor="end" font-family='"Liberation Serif", serif' font-weight="normal" fill="#000" >1.0</text>
<line x1="408.6" y1="259.45000000000005" x2="411.8" y2="259.45000000000005" stroke="#000" stroke-width="1.6"/>
<text transform="translate(407.90,262.15) scale(1,0.9)" font-size="10.2" text-anchor="end" font-family='"Liberation Serif", serif' font-weight="normal" fill="#000" >1.5</text>
<line x1="408.6" y1="235.90000000000003" x2="411.8" y2="235.90000000000003" stroke="#000" stroke-width="1.6"/>
<text transform="translate(407.90,238.60) scale(1,0.9)" font-size="10.2" text-anchor="end" font-family='"Liberation Serif", serif' font-weight="normal" fill="#000" >2.0</text>
<rect x="417.75" y="276.55" width="22.70" height="52.80" fill="#fff" stroke="#000" stroke-width="1.5"/>
<rect x="417.75" y="310.70" width="22.70" height="18.65" fill="url(#hatch)" stroke="#000" stroke-width="1.5"/>
<line x1="429.1" y1="275.8" x2="429.1" y2="268.5" stroke="#000" stroke-width="1.4"/>
<line x1="423.20000000000005" y1="268.5" x2="435.0" y2="268.5" stroke="#000" stroke-width="1.5"/>
<rect x="451.95" y="312.95" width="22.30" height="16.40" fill="#fff" stroke="#000" stroke-width="1.5"/>
<rect x="451.95" y="323.90" width="22.30" height="5.45" fill="url(#hatch)" stroke="#000" stroke-width="1.5"/>
<line x1="463.1" y1="312.2" x2="463.1" y2="308.5" stroke="#000" stroke-width="1.4"/>
<line x1="457.20000000000005" y1="308.5" x2="469.0" y2="308.5" stroke="#000" stroke-width="1.5"/>
<line x1="411.0" y1="330.1" x2="480.4" y2="330.1" stroke="#000" stroke-width="1.8"/>
<line x1="428.8" y1="330.1" x2="428.8" y2="333.3" stroke="#000" stroke-width="1.4"/>
<line x1="463.2" y1="330.1" x2="463.2" y2="333.3" stroke="#000" stroke-width="1.4"/>
<path d="M426.50,246.80L426.50,254.80M423.04,248.80L429.96,252.80M423.04,252.80L429.96,248.80" stroke="#333" stroke-width="1.7" stroke-linecap="round" fill="none"/>
<text transform="translate(411.7,343.8) scale(1,1.0)" font-size="8.8" text-anchor="start" font-family='"Liberation Serif", serif' font-weight="normal" fill="#000"  textLength="66.5" lengthAdjust="spacingAndGlyphs">KGF(+/-)KGF(-/-)</text>
<rect x="465.15" y="250.95" width="13.10" height="5.80" fill="url(#hatch)" stroke="#000" stroke-width="1.5"/>
<rect x="465.15" y="261.85" width="13.10" height="4.90" fill="#fff" stroke="#000" stroke-width="1.5"/>
<text transform="translate(480.3,257.1) scale(1,1.0)" font-size="10.2" text-anchor="start" font-family='"Liberation Serif", serif' font-weight="normal" fill="#000" >DONOR</text>
<text transform="translate(480.3,267.1) scale(1,1.0)" font-size="10.1" text-anchor="start" font-family='"Liberation Serif", serif' font-weight="normal" fill="#000" >HOST</text>
<text transform="translate(21.3,363) scale(1,1.0)" font-size="13.5" text-anchor="start" font-family='"Liberation Serif", serif' font-weight="normal" fill="#000"  textLength="185.7" lengthAdjust="spacingAndGlyphs">B6.129 KGF(-/-) OR (KGF+/-) BM</text>
<line x1="210.5" y1="358.7" x2="220.8" y2="358.7" stroke="#000" stroke-width="1.3"/>
<path d="M220.00,356.60L223.80,358.70L220.00,360.80Z" fill="#000"/>
<text transform="translate(225,363) scale(1,1.0)" font-size="13.5" text-anchor="start" font-family='"Liberation Serif", serif' font-weight="normal" fill="#000"  textLength="42" lengthAdjust="spacingAndGlyphs">B6.129</text>
<text transform="translate(17.19,384.57) scale(0.955,1)" font-size="23.18" font-family='"Liberation Sans", sans-serif' font-weight="bold" style="stroke:#000;stroke-width:1.0px;stroke-linejoin:round">G</text>
<line x1="37.3" y1="403.1" x2="37.3" y2="489.90000000000003" stroke="#000" stroke-width="1.6"/>
<line x1="34.099999999999994" y1="489.1" x2="37.3" y2="489.1" stroke="#000" stroke-width="1.6"/>
<text transform="translate(33.40,491.71) scale(1,0.85)" font-size="10.5" text-anchor="end" font-family='"Liberation Serif", serif' font-weight="normal" fill="#000" >0</text>
<line x1="34.099999999999994" y1="467.6" x2="37.3" y2="467.6" stroke="#000" stroke-width="1.6"/>
<text transform="translate(33.40,470.21) scale(1,0.85)" font-size="10.5" text-anchor="end" font-family='"Liberation Serif", serif' font-weight="normal" fill="#000" >50</text>
<line x1="34.099999999999994" y1="446.1" x2="37.3" y2="446.1" stroke="#000" stroke-width="1.6"/>
<text transform="translate(33.40,448.71) scale(1,0.85)" font-size="10.5" text-anchor="end" font-family='"Liberation Serif", serif' font-weight="normal" fill="#000" >100</text>
<line x1="34.099999999999994" y1="424.6" x2="37.3" y2="424.6" stroke="#000" stroke-width="1.6"/>
<text transform="translate(33.40,427.21) scale(1,0.85)" font-size="10.5" text-anchor="end" font-family='"Liberation Serif", serif' font-weight="normal" fill="#000" >150</text>
<line x1="34.099999999999994" y1="403.1" x2="37.3" y2="403.1" stroke="#000" stroke-width="1.6"/>
<text transform="translate(33.40,405.71) scale(1,0.85)" font-size="10.5" text-anchor="end" font-family='"Liberation Serif", serif' font-weight="normal" fill="#000" >200</text>
<rect x="45.65" y="452.55" width="14.85" height="35.80" fill="#d5d5d5" stroke="#000" stroke-width="1.5"/><line x1="52.70" y1="451.8" x2="52.70" y2="449.6" stroke="#000" stroke-width="1.3"/><line x1="48.80" y1="449.6" x2="56.60" y2="449.6" stroke="#000" stroke-width="1.5"/>
<rect x="60.50" y="444.95" width="14.45" height="43.40" fill="#484848" stroke="#000" stroke-width="1.5"/><line x1="68.10" y1="444.2" x2="68.10" y2="436.1" stroke="#000" stroke-width="1.3"/><line x1="64.20" y1="436.1" x2="72.00" y2="436.1" stroke="#000" stroke-width="1.5"/>
<rect x="91.75" y="421.65" width="14.65" height="66.70" fill="#d5d5d5" stroke="#000" stroke-width="1.5"/><line x1="98.70" y1="420.9" x2="98.70" y2="412" stroke="#000" stroke-width="1.3"/><line x1="94.70" y1="412" x2="102.70" y2="412" stroke="#000" stroke-width="1.5"/>
<rect x="106.40" y="447.55" width="14.55" height="40.80" fill="#484848" stroke="#000" stroke-width="1.5"/><line x1="114.05" y1="446.8" x2="114.05" y2="437.9" stroke="#000" stroke-width="1.3"/><line x1="110.05" y1="437.9" x2="118.05" y2="437.9" stroke="#000" stroke-width="1.5"/>
<line x1="36.5" y1="489.1" x2="126.5" y2="489.1" stroke="#000" stroke-width="1.8"/>
<line x1="60.5" y1="489.1" x2="60.5" y2="492.3" stroke="#000" stroke-width="1.4"/>
<line x1="106.6" y1="489.1" x2="106.6" y2="492.3" stroke="#000" stroke-width="1.4"/>
<text transform="translate(59.9,500.1) scale(1,0.94)" font-size="10.7" text-anchor="middle" font-family='"Liberation Serif", serif' font-weight="normal" fill="#000" >THYMUS</text>
<text transform="translate(105.8,500.1) scale(1,0.94)" font-size="10.7" text-anchor="middle" font-family='"Liberation Serif", serif' font-weight="normal" fill="#000" >SPLEEN</text>
<g transform="translate(9.10,443.85) rotate(-90) scale(1,1.05)">
<text x="0" y="3.47" font-size="10.51" text-anchor="middle" font-family='"Liberation Serif", serif' textLength="108.50" lengthAdjust="spacingAndGlyphs">CELL NUMBERS (x10<tspan font-size="7.57" dy="-5.05">6</tspan><tspan dy="5.05">)</tspan></text>
</g>
<text transform="translate(153.27,385.10) scale(0.949,1)" font-size="23.42" font-family='"Liberation Sans", sans-serif' font-weight="bold" style="stroke:#000;stroke-width:1.0px;stroke-linejoin:round">H</text>
<text transform="translate(195.16,390.2) scale(1,0.924)" font-size="13.56" text-anchor="start" font-family='"Liberation Serif", serif' font-weight="normal" fill="#000" >THYMUS</text>
<line x1="172.8" y1="397.9" x2="172.8" y2="494.1" stroke="#000" stroke-width="1.6"/>
<line x1="169.60000000000002" y1="493.3" x2="172.8" y2="493.3" stroke="#000" stroke-width="1.6"/>
<text transform="translate(168.90,496.08) scale(1,0.84)" font-size="11.2" text-anchor="end" font-family='"Liberation Serif", serif' font-weight="normal" fill="#000" >0</text>
<line x1="169.60000000000002" y1="477.40000000000003" x2="172.8" y2="477.40000000000003" stroke="#000" stroke-width="1.6"/>
<text transform="translate(168.90,480.18) scale(1,0.84)" font-size="11.2" text-anchor="end" font-family='"Liberation Serif", serif' font-weight="normal" fill="#000" >20</text>
<line x1="169.60000000000002" y1="461.5" x2="172.8" y2="461.5" stroke="#000" stroke-width="1.6"/>
<text transform="translate(168.90,464.28) scale(1,0.84)" font-size="11.2" text-anchor="end" font-family='"Liberation Serif", serif' font-weight="normal" fill="#000" >40</text>
<line x1="169.60000000000002" y1="445.6" x2="172.8" y2="445.6" stroke="#000" stroke-width="1.6"/>
<text transform="translate(168.90,448.38) scale(1,0.84)" font-size="11.2" text-anchor="end" font-family='"Liberation Serif", serif' font-weight="normal" fill="#000" >60</text>
<line x1="169.60000000000002" y1="429.7" x2="172.8" y2="429.7" stroke="#000" stroke-width="1.6"/>
<text transform="translate(168.90,432.48) scale(1,0.84)" font-size="11.2" text-anchor="end" font-family='"Liberation Serif", serif' font-weight="normal" fill="#000" >80</text>
<line x1="169.60000000000002" y1="413.8" x2="172.8" y2="413.8" stroke="#000" stroke-width="1.6"/>
<text transform="translate(168.90,416.58) scale(1,0.84)" font-size="11.2" text-anchor="end" font-family='"Liberation Serif", serif' font-weight="normal" fill="#000" >100</text>
<line x1="169.60000000000002" y1="397.9" x2="172.8" y2="397.9" stroke="#000" stroke-width="1.6"/>
<text transform="translate(168.90,400.68) scale(1,0.84)" font-size="11.2" text-anchor="end" font-family='"Liberation Serif", serif' font-weight="normal" fill="#000" >120</text>
<rect x="178.15" y="438.35" width="9.35" height="54.20" fill="#d5d5d5" stroke="#000" stroke-width="1.5"/><line x1="182.45" y1="437.6" x2="182.45" y2="433.5" stroke="#000" stroke-width="1.3"/><line x1="179.95" y1="433.5" x2="184.95" y2="433.5" stroke="#000" stroke-width="1.5"/>
<rect x="187.50" y="425.55" width="9.55" height="67.00" fill="#484848" stroke="#000" stroke-width="1.5"/><line x1="192.65" y1="424.8" x2="192.65" y2="412.3" stroke="#000" stroke-width="1.3"/><line x1="189.85" y1="412.3" x2="195.45" y2="412.3" stroke="#000" stroke-width="1.5"/>
<rect x="208.05" y="485.75" width="8.85" height="6.80" fill="#d5d5d5" stroke="#000" stroke-width="1.5"/>
<rect x="216.90" y="483.25" width="10.85" height="9.30" fill="#484848" stroke="#000" stroke-width="1.5"/><line x1="222.70" y1="482.5" x2="222.70" y2="481.2" stroke="#000" stroke-width="1.3"/><line x1="220.20" y1="481.2" x2="225.20" y2="481.2" stroke="#000" stroke-width="1.5"/>
<rect x="237.25" y="490.55" width="9.85" height="2.00" fill="#d5d5d5" stroke="#000" stroke-width="1.5"/>
<rect x="247.10" y="490.35" width="9.45" height="2.20" fill="#484848" stroke="#000" stroke-width="1.5"/>
<rect x="267.05" y="492.05" width="8.95" height="0.50" fill="#d5d5d5" stroke="#000" stroke-width="1.5"/>
<rect x="276.00" y="491.15" width="9.45" height="1.40" fill="#484848" stroke="#000" stroke-width="1.5"/>
<line x1="172.0" y1="493.3" x2="293.3" y2="493.3" stroke="#000" stroke-width="1.8"/>
<line x1="187.5" y1="493.3" x2="187.5" y2="496.5" stroke="#000" stroke-width="1.4"/>
<line x1="216.9" y1="493.3" x2="216.9" y2="496.5" stroke="#000" stroke-width="1.4"/>
<line x1="247.1" y1="493.3" x2="247.1" y2="496.5" stroke="#000" stroke-width="1.4"/>
<line x1="276" y1="493.3" x2="276" y2="496.5" stroke="#000" stroke-width="1.4"/>
<text transform="translate(187.3,505.4) scale(1,1.0)" font-size="12" text-anchor="middle" font-family='"Liberation Serif", serif' font-weight="normal" fill="#000" >DP</text>
<text transform="translate(216.7,505.4) scale(1,1.0)" font-size="12" text-anchor="middle" font-family='"Liberation Serif", serif' font-weight="normal" fill="#000" >CD4</text>
<text transform="translate(247.1,505.4) scale(1,1.0)" font-size="12" text-anchor="middle" font-family='"Liberation Serif", serif' font-weight="normal" fill="#000" >CD8</text>
<text transform="translate(276.2,505.4) scale(1,1.0)" font-size="12" text-anchor="middle" font-family='"Liberation Serif", serif' font-weight="normal" fill="#000" >DN</text>
<g transform="translate(141.50,443.50) rotate(-90) scale(1,1.12)">
<text x="0" y="3.92" font-size="11.88" text-anchor="middle" font-family='"Liberation Serif", serif' textLength="122.60" lengthAdjust="spacingAndGlyphs">CELL NUMBERS (x10<tspan font-size="8.55" dy="-5.70">6</tspan><tspan dy="5.70">)</tspan></text>
</g>
<text transform="translate(303.58,384.00) scale(0.669,1)" font-size="23.42" font-family='"Liberation Sans", sans-serif' font-weight="bold" style="stroke:#000;stroke-width:1.0px;stroke-linejoin:round">I</text>
<text transform="translate(369.2,388.4) scale(1,0.891)" font-size="13.39" text-anchor="start" font-family='"Liberation Serif", serif' font-weight="normal" fill="#000" >SPLEEN</text>
<line x1="328.1" y1="404.6" x2="328.1" y2="495.1" stroke="#000" stroke-width="1.6"/>
<line x1="324.90000000000003" y1="494.3" x2="328.1" y2="494.3" stroke="#000" stroke-width="1.6"/>
<text transform="translate(324.20,497.31) scale(1,0.98)" font-size="10.3" text-anchor="end" font-family='"Liberation Serif", serif' font-weight="normal" fill="#000" >0</text>
<line x1="324.90000000000003" y1="464.40000000000003" x2="328.1" y2="464.40000000000003" stroke="#000" stroke-width="1.6"/>
<text transform="translate(324.20,467.41) scale(1,0.98)" font-size="10.3" text-anchor="end" font-family='"Liberation Serif", serif' font-weight="normal" fill="#000" >5</text>
<line x1="324.90000000000003" y1="434.5" x2="328.1" y2="434.5" stroke="#000" stroke-width="1.6"/>
<text transform="translate(324.20,437.51) scale(1,0.98)" font-size="10.3" text-anchor="end" font-family='"Liberation Serif", serif' font-weight="normal" fill="#000" >10</text>
<line x1="324.90000000000003" y1="404.6" x2="328.1" y2="404.6" stroke="#000" stroke-width="1.6"/>
<text transform="translate(324.20,407.61) scale(1,0.98)" font-size="10.3" text-anchor="end" font-family='"Liberation Serif", serif' font-weight="normal" fill="#000" >15</text>
<rect x="335.35" y="421.95" width="11.15" height="71.60" fill="#d5d5d5" stroke="#000" stroke-width="1.5"/><line x1="340.55" y1="421.2" x2="340.55" y2="411.5" stroke="#000" stroke-width="1.3"/><line x1="337.25" y1="411.5" x2="343.85" y2="411.5" stroke="#000" stroke-width="1.5"/>
<rect x="346.50" y="422.65" width="11.95" height="70.90" fill="#484848" stroke="#000" stroke-width="1.5"/><line x1="352.85" y1="421.9" x2="352.85" y2="410.8" stroke="#000" stroke-width="1.3"/><line x1="349.85" y1="410.8" x2="355.85" y2="410.8" stroke="#000" stroke-width="1.5"/>
<rect x="371.05" y="435.55" width="11.75" height="58.00" fill="#d5d5d5" stroke="#000" stroke-width="1.5"/>
<rect x="382.80" y="438.75" width="11.95" height="54.80" fill="#484848" stroke="#000" stroke-width="1.5"/><line x1="389.15" y1="438" x2="389.15" y2="429.7" stroke="#000" stroke-width="1.3"/><line x1="386.15" y1="429.7" x2="392.15" y2="429.7" stroke="#000" stroke-width="1.5"/>
<rect x="407.75" y="484.55" width="11.55" height="9.00" fill="#d5d5d5" stroke="#000" stroke-width="1.5"/>
<rect x="419.30" y="481.55" width="11.95" height="12.00" fill="#484848" stroke="#000" stroke-width="1.5"/><line x1="425.65" y1="480.8" x2="425.65" y2="478.8" stroke="#000" stroke-width="1.3"/><line x1="422.65" y1="478.8" x2="428.65" y2="478.8" stroke="#000" stroke-width="1.5"/>
<line x1="327.3" y1="494.3" x2="438.8" y2="494.3" stroke="#000" stroke-width="1.8"/>
<line x1="346.5" y1="494.3" x2="346.5" y2="497.5" stroke="#000" stroke-width="1.4"/>
<line x1="382.8" y1="494.3" x2="382.8" y2="497.5" stroke="#000" stroke-width="1.4"/>
<line x1="419.3" y1="494.3" x2="419.3" y2="497.5" stroke="#000" stroke-width="1.4"/>
<text transform="translate(347.2,505.2) scale(1,1.0)" font-size="11.5" text-anchor="middle" font-family='"Liberation Serif", serif' font-weight="normal" fill="#000" >CD3</text>
<text transform="translate(382.3,505.2) scale(1,1.0)" font-size="11.5" text-anchor="middle" font-family='"Liberation Serif", serif' font-weight="normal" fill="#000" >CD4</text>
<text transform="translate(419.5,505.2) scale(1,1.0)" font-size="11.5" text-anchor="middle" font-family='"Liberation Serif", serif' font-weight="normal" fill="#000" >CD8</text>
<rect x="419.55" y="414.65" width="13.30" height="6.60" fill="#d5d5d5" stroke="#000" stroke-width="1.5"/>
<rect x="419.55" y="426.25" width="13.30" height="6.60" fill="#484848" stroke="#000" stroke-width="1.5"/>
<text transform="translate(434.5,421.3) scale(1,1.0)" font-size="11.6" text-anchor="start" font-family='"Liberation Serif", serif' font-weight="normal" fill="#000" >KGF(-/-)</text>
<text transform="translate(434.5,433) scale(1,1.0)" font-size="11.6" text-anchor="start" font-family='"Liberation Serif", serif' font-weight="normal" fill="#000" >KGF(+/-)</text>
<g transform="translate(304.60,446.15) rotate(-90) scale(1,1.12)">
<text x="0" y="3.61" font-size="10.94" text-anchor="middle" font-family='"Liberation Serif", serif' textLength="112.90" lengthAdjust="spacingAndGlyphs">CELL NUMBERS (x10<tspan font-size="7.87" dy="-5.25">6</tspan><tspan dy="5.25">)</tspan></text>
</g>
<text transform="translate(29.5,525.8) scale(1,1.0)" font-size="13.5" text-anchor="start" font-family='"Liberation Serif", serif' font-weight="normal" fill="#000"  textLength="190.4" lengthAdjust="spacingAndGlyphs">B6.129 KGF(-/-) OR (KGF+/-) BM</text>
<line x1="223.1" y1="521.5" x2="234.9" y2="521.5" stroke="#000" stroke-width="1.3"/>
<path d="M234.10,519.40L237.90,521.50L234.10,523.60Z" fill="#000"/>
<text transform="translate(238.7,525.8) scale(1,1.0)" font-size="13.5" text-anchor="start" font-family='"Liberation Serif", serif' font-weight="normal" fill="#000"  textLength="46.3" lengthAdjust="spacingAndGlyphs">BALB/c</text>
<text transform="translate(25.22,549.96) scale(0.874,1)" font-size="23.80" font-family='"Liberation Sans", sans-serif' font-weight="bold" style="stroke:#000;stroke-width:1.0px;stroke-linejoin:round">J</text>
<line x1="40.4" y1="566.0" x2="40.4" y2="654.4" stroke="#000" stroke-width="1.6"/>
<line x1="37.199999999999996" y1="653.6" x2="40.4" y2="653.6" stroke="#000" stroke-width="1.6"/>
<text transform="translate(36.50,656.31) scale(1,0.92)" font-size="10.0" text-anchor="end" font-family='"Liberation Serif", serif' font-weight="normal" fill="#000" >0</text>
<line x1="37.199999999999996" y1="631.7" x2="40.4" y2="631.7" stroke="#000" stroke-width="1.6"/>
<text transform="translate(36.50,634.41) scale(1,0.92)" font-size="10.0" text-anchor="end" font-family='"Liberation Serif", serif' font-weight="normal" fill="#000" >30</text>
<line x1="37.199999999999996" y1="609.8000000000001" x2="40.4" y2="609.8000000000001" stroke="#000" stroke-width="1.6"/>
<text transform="translate(36.50,612.51) scale(1,0.92)" font-size="10.0" text-anchor="end" font-family='"Liberation Serif", serif' font-weight="normal" fill="#000" >60</text>
<line x1="37.199999999999996" y1="587.9" x2="40.4" y2="587.9" stroke="#000" stroke-width="1.6"/>
<text transform="translate(36.50,590.61) scale(1,0.92)" font-size="10.0" text-anchor="end" font-family='"Liberation Serif", serif' font-weight="normal" fill="#000" >90</text>
<line x1="37.199999999999996" y1="566.0" x2="40.4" y2="566.0" stroke="#000" stroke-width="1.6"/>
<text transform="translate(36.50,568.71) scale(1,0.92)" font-size="10.0" text-anchor="end" font-family='"Liberation Serif", serif' font-weight="normal" fill="#000" >120</text>
<rect x="48.65" y="622.05" width="13.85" height="30.80" fill="#d5d5d5" stroke="#000" stroke-width="1.5"/><line x1="55.20" y1="621.3" x2="55.20" y2="616.2" stroke="#000" stroke-width="1.3"/><line x1="51.70" y1="616.2" x2="58.70" y2="616.2" stroke="#000" stroke-width="1.5"/>
<rect x="62.50" y="610.75" width="13.45" height="42.10" fill="#484848" stroke="#000" stroke-width="1.5"/><line x1="69.60" y1="610" x2="69.60" y2="606" stroke="#000" stroke-width="1.3"/><line x1="66.10" y1="606" x2="73.10" y2="606" stroke="#000" stroke-width="1.5"/>
<rect x="90.45" y="604.05" width="13.75" height="48.80" fill="#d5d5d5" stroke="#000" stroke-width="1.5"/><line x1="96.95" y1="603.3" x2="96.95" y2="596" stroke="#000" stroke-width="1.3"/><line x1="93.45" y1="596" x2="100.45" y2="596" stroke="#000" stroke-width="1.5"/>
<rect x="104.20" y="587.35" width="13.55" height="65.50" fill="#484848" stroke="#000" stroke-width="1.5"/><line x1="111.35" y1="586.6" x2="111.35" y2="579" stroke="#000" stroke-width="1.3"/><line x1="107.85" y1="579" x2="114.85" y2="579" stroke="#000" stroke-width="1.5"/>
<line x1="39.6" y1="653.6" x2="125.2" y2="653.6" stroke="#000" stroke-width="1.8"/>
<line x1="62.5" y1="653.6" x2="62.5" y2="656.8000000000001" stroke="#000" stroke-width="1.4"/>
<line x1="104.2" y1="653.6" x2="104.2" y2="656.8000000000001" stroke="#000" stroke-width="1.4"/>
<text transform="translate(62.2,664.3) scale(1,1.0)" font-size="11" text-anchor="middle" font-family='"Liberation Serif", serif' font-weight="normal" fill="#000" >THY</text>
<text transform="translate(103.4,664.3) scale(1,1.0)" font-size="11" text-anchor="middle" font-family='"Liberation Serif", serif' font-weight="normal" fill="#000" >SPLEEN</text>
<g transform="translate(18.50,609.25) rotate(-90) scale(1,1.12)">
<text x="0" y="3.61" font-size="10.94" text-anchor="middle" font-family='"Liberation Serif", serif' textLength="112.90" lengthAdjust="spacingAndGlyphs">CELL NUMBERS (x10<tspan font-size="7.87" dy="-5.25">6</tspan><tspan dy="5.25">)</tspan></text>
</g>
<text transform="translate(146.55,550.60) scale(0.934,1)" font-size="24.00" font-family='"Liberation Sans", sans-serif' font-weight="bold" style="stroke:#000;stroke-width:1.0px;stroke-linejoin:round">K</text>
<text transform="translate(188.81,547.3) scale(1,0.89)" font-size="13.57" text-anchor="start" font-family='"Liberation Serif", serif' font-weight="normal" fill="#000" >THYMUS</text>
<line x1="155.5" y1="561.3" x2="155.5" y2="655.5999999999999" stroke="#000" stroke-width="1.6"/>
<line x1="152.3" y1="654.8" x2="155.5" y2="654.8" stroke="#000" stroke-width="1.6"/>
<text transform="translate(151.60,657.94) scale(1,1.0)" font-size="10.5" text-anchor="end" font-family='"Liberation Serif", serif' font-weight="normal" fill="#000" >0</text>
<line x1="152.3" y1="636.0999999999999" x2="155.5" y2="636.0999999999999" stroke="#000" stroke-width="1.6"/>
<text transform="translate(151.60,639.24) scale(1,1.0)" font-size="10.5" text-anchor="end" font-family='"Liberation Serif", serif' font-weight="normal" fill="#000" >10</text>
<line x1="152.3" y1="617.4" x2="155.5" y2="617.4" stroke="#000" stroke-width="1.6"/>
<text transform="translate(151.60,620.54) scale(1,1.0)" font-size="10.5" text-anchor="end" font-family='"Liberation Serif", serif' font-weight="normal" fill="#000" >20</text>
<line x1="152.3" y1="598.6999999999999" x2="155.5" y2="598.6999999999999" stroke="#000" stroke-width="1.6"/>
<text transform="translate(151.60,601.84) scale(1,1.0)" font-size="10.5" text-anchor="end" font-family='"Liberation Serif", serif' font-weight="normal" fill="#000" >30</text>
<line x1="152.3" y1="580.0" x2="155.5" y2="580.0" stroke="#000" stroke-width="1.6"/>
<text transform="translate(151.60,583.14) scale(1,1.0)" font-size="10.5" text-anchor="end" font-family='"Liberation Serif", serif' font-weight="normal" fill="#000" >40</text>
<line x1="152.3" y1="561.3" x2="155.5" y2="561.3" stroke="#000" stroke-width="1.6"/>
<text transform="translate(151.60,564.44) scale(1,1.0)" font-size="10.5" text-anchor="end" font-family='"Liberation Serif", serif' font-weight="normal" fill="#000" >50</text>
<rect x="160.95" y="594.25" width="11.05" height="59.80" fill="#d5d5d5" stroke="#000" stroke-width="1.5"/><line x1="166.10" y1="593.5" x2="166.10" y2="583.8" stroke="#000" stroke-width="1.3"/><line x1="163.10" y1="583.8" x2="169.10" y2="583.8" stroke="#000" stroke-width="1.5"/>
<rect x="172.00" y="577.65" width="11.85" height="76.40" fill="#484848" stroke="#000" stroke-width="1.5"/><line x1="178.30" y1="576.9" x2="178.30" y2="569.2" stroke="#000" stroke-width="1.3"/><line x1="175.10" y1="569.2" x2="181.50" y2="569.2" stroke="#000" stroke-width="1.5"/>
<rect x="193.45" y="639.35" width="10.75" height="14.70" fill="#d5d5d5" stroke="#000" stroke-width="1.5"/>
<rect x="204.20" y="634.25" width="12.35" height="19.80" fill="#484848" stroke="#000" stroke-width="1.5"/><line x1="210.75" y1="633.5" x2="210.75" y2="632.1" stroke="#000" stroke-width="1.3"/><line x1="208.00" y1="632.1" x2="213.50" y2="632.1" stroke="#000" stroke-width="1.5"/>
<rect x="226.15" y="650.05" width="10.95" height="4.00" fill="#d5d5d5" stroke="#000" stroke-width="1.5"/>
<rect x="237.10" y="648.05" width="12.15" height="6.00" fill="#484848" stroke="#000" stroke-width="1.5"/>
<rect x="258.85" y="651.45" width="10.95" height="2.60" fill="#d5d5d5" stroke="#000" stroke-width="1.5"/>
<rect x="269.80" y="651.45" width="12.45" height="2.60" fill="#484848" stroke="#000" stroke-width="1.5"/>
<line x1="154.7" y1="654.8" x2="287" y2="654.8" stroke="#000" stroke-width="1.8"/>
<line x1="172" y1="654.8" x2="172" y2="658.0" stroke="#000" stroke-width="1.4"/>
<line x1="204.2" y1="654.8" x2="204.2" y2="658.0" stroke="#000" stroke-width="1.4"/>
<line x1="237.1" y1="654.8" x2="237.1" y2="658.0" stroke="#000" stroke-width="1.4"/>
<line x1="269.8" y1="654.8" x2="269.8" y2="658.0" stroke="#000" stroke-width="1.4"/>
<path d="M211.30,623.00L211.30,628.80M208.79,624.45L213.81,627.35M208.79,627.35L213.81,624.45" stroke="#707070" stroke-width="1.3" stroke-linecap="round" fill="none"/>
<text transform="translate(172.1,666.2) scale(1,1.0)" font-size="12" text-anchor="middle" font-family='"Liberation Serif", serif' font-weight="normal" fill="#000" >DP</text>
<text transform="translate(204.6,666.2) scale(1,1.0)" font-size="12" text-anchor="middle" font-family='"Liberation Serif", serif' font-weight="normal" fill="#000" >CD4</text>
<text transform="translate(236.8,666.2) scale(1,1.0)" font-size="12" text-anchor="middle" font-family='"Liberation Serif", serif' font-weight="normal" fill="#000" >CD8</text>
<text transform="translate(270,666.2) scale(1,1.0)" font-size="12" text-anchor="middle" font-family='"Liberation Serif", serif' font-weight="normal" fill="#000" >DN</text>
<g transform="translate(135.30,604.85) rotate(-90) scale(1,1.12)">
<text x="0" y="3.73" font-size="11.29" text-anchor="middle" font-family='"Liberation Serif", serif' textLength="108.50" lengthAdjust="spacingAndGlyphs">THYMOCYTES (x10<tspan font-size="8.13" dy="-5.42">6</tspan><tspan dy="5.42">)</tspan></text>
</g>
<text transform="translate(299.39,550.90) scale(0.925,1)" font-size="23.56" font-family='"Liberation Sans", sans-serif' font-weight="bold" style="stroke:#000;stroke-width:1.0px;stroke-linejoin:round">L</text>
<text transform="translate(369.2,544.7) scale(1,0.879)" font-size="13.39" text-anchor="start" font-family='"Liberation Serif", serif' font-weight="normal" fill="#000" >SPLEEN</text>
<text transform="translate(347.4,567.2) scale(1,1.0)" font-size="11.8" text-anchor="middle" font-family='"Liberation Serif", serif' font-weight="normal" fill="#000" >CD4</text>
<line x1="311.9" y1="568.9" x2="311.9" y2="657.9" stroke="#000" stroke-width="1.6"/>
<line x1="308.7" y1="657.1" x2="311.9" y2="657.1" stroke="#000" stroke-width="1.6"/>
<text transform="translate(308.00,659.80) scale(1,0.85)" font-size="10.8" text-anchor="end" font-family='"Liberation Serif", serif' font-weight="normal" fill="#000" >0</text>
<line x1="308.7" y1="627.7" x2="311.9" y2="627.7" stroke="#000" stroke-width="1.6"/>
<text transform="translate(308.00,630.40) scale(1,0.85)" font-size="10.8" text-anchor="end" font-family='"Liberation Serif", serif' font-weight="normal" fill="#000" >5</text>
<line x1="308.7" y1="598.3000000000001" x2="311.9" y2="598.3000000000001" stroke="#000" stroke-width="1.6"/>
<text transform="translate(308.00,601.00) scale(1,0.85)" font-size="10.8" text-anchor="end" font-family='"Liberation Serif", serif' font-weight="normal" fill="#000" >10</text>
<line x1="308.7" y1="568.9" x2="311.9" y2="568.9" stroke="#000" stroke-width="1.6"/>
<text transform="translate(308.00,571.60) scale(1,0.85)" font-size="10.8" text-anchor="end" font-family='"Liberation Serif", serif' font-weight="normal" fill="#000" >15</text>
<rect x="319.15" y="588.15" width="21.30" height="68.20" fill="#fff" stroke="#000" stroke-width="1.5"/>
<rect x="319.15" y="614.80" width="21.30" height="41.55" fill="url(#hatch)" stroke="#000" stroke-width="1.5"/>
<line x1="329.79999999999995" y1="587.4" x2="329.79999999999995" y2="585.9" stroke="#000" stroke-width="1.4"/>
<line x1="324.29999999999995" y1="585.9" x2="335.29999999999995" y2="585.9" stroke="#000" stroke-width="1.5"/>
<rect x="351.85" y="604.15" width="21.30" height="52.20" fill="#fff" stroke="#000" stroke-width="1.5"/>
<rect x="351.85" y="621.60" width="21.30" height="34.75" fill="url(#hatch)" stroke="#000" stroke-width="1.5"/>
<line x1="362.5" y1="603.4" x2="362.5" y2="599.9" stroke="#000" stroke-width="1.4"/>
<line x1="357.5" y1="599.9" x2="367.5" y2="599.9" stroke="#000" stroke-width="1.5"/>
<line x1="311.09999999999997" y1="657.1" x2="380.5" y2="657.1" stroke="#000" stroke-width="1.8"/>
<line x1="329.6" y1="657.1" x2="329.6" y2="660.3000000000001" stroke="#000" stroke-width="1.4"/>
<line x1="362.5" y1="657.1" x2="362.5" y2="660.3000000000001" stroke="#000" stroke-width="1.4"/>
<text transform="translate(314.2,668.3) scale(1,1.0)" font-size="8.6" text-anchor="start" font-family='"Liberation Serif", serif' font-weight="normal" fill="#000"  textLength="62.6" lengthAdjust="spacingAndGlyphs">KGF(+/-) KGF(-/-)</text>
<g transform="translate(294.00,613.30) rotate(-90) scale(1,1.12)">
<text x="0" y="3.55" font-size="10.75" text-anchor="middle" font-family='"Liberation Serif", serif' textLength="111.00" lengthAdjust="spacingAndGlyphs">CELL NUMBERS (x10<tspan font-size="7.74" dy="-5.16">6</tspan><tspan dy="5.16">)</tspan></text>
</g>
<text transform="translate(443.4,564.6) scale(1,1.0)" font-size="11.7" text-anchor="middle" font-family='"Liberation Serif", serif' font-weight="normal" fill="#000" >CD8</text>
<line x1="404.3" y1="566.2" x2="404.3" y2="660.0" stroke="#000" stroke-width="1.6"/>
<line x1="401.1" y1="659.2" x2="404.3" y2="659.2" stroke="#000" stroke-width="1.6"/>
<text transform="translate(400.40,661.94) scale(1,0.95)" font-size="9.8" text-anchor="end" font-family='"Liberation Serif", serif' font-weight="normal" fill="#000" >0</text>
<line x1="401.1" y1="643.7" x2="404.3" y2="643.7" stroke="#000" stroke-width="1.6"/>
<text transform="translate(400.40,646.44) scale(1,0.95)" font-size="9.8" text-anchor="end" font-family='"Liberation Serif", serif' font-weight="normal" fill="#000" >1</text>
<line x1="401.1" y1="628.2" x2="404.3" y2="628.2" stroke="#000" stroke-width="1.6"/>
<text transform="translate(400.40,630.94) scale(1,0.95)" font-size="9.8" text-anchor="end" font-family='"Liberation Serif", serif' font-weight="normal" fill="#000" >2</text>
<line x1="401.1" y1="612.7" x2="404.3" y2="612.7" stroke="#000" stroke-width="1.6"/>
<text transform="translate(400.40,615.44) scale(1,0.95)" font-size="9.8" text-anchor="end" font-family='"Liberation Serif", serif' font-weight="normal" fill="#000" >3</text>
<line x1="401.1" y1="597.2" x2="404.3" y2="597.2" stroke="#000" stroke-width="1.6"/>
<text transform="translate(400.40,599.94) scale(1,0.95)" font-size="9.8" text-anchor="end" font-family='"Liberation Serif", serif' font-weight="normal" fill="#000" >4</text>
<line x1="401.1" y1="581.7" x2="404.3" y2="581.7" stroke="#000" stroke-width="1.6"/>
<text transform="translate(400.40,584.44) scale(1,0.95)" font-size="9.8" text-anchor="end" font-family='"Liberation Serif", serif' font-weight="normal" fill="#000" >5</text>
<line x1="401.1" y1="566.2" x2="404.3" y2="566.2" stroke="#000" stroke-width="1.6"/>
<text transform="translate(400.40,568.94) scale(1,0.95)" font-size="9.8" text-anchor="end" font-family='"Liberation Serif", serif' font-weight="normal" fill="#000" >6</text>
<rect x="410.25" y="584.55" width="22.80" height="73.90" fill="#fff" stroke="#000" stroke-width="1.5"/>
<rect x="410.25" y="600.80" width="22.80" height="57.65" fill="url(#hatch)" stroke="#000" stroke-width="1.5"/>
<line x1="421.65" y1="583.8" x2="421.65" y2="580.8" stroke="#000" stroke-width="1.4"/>
<line x1="415.75" y1="580.8" x2="427.54999999999995" y2="580.8" stroke="#000" stroke-width="1.5"/>
<rect x="445.65" y="616.15" width="22.10" height="42.30" fill="#fff" stroke="#000" stroke-width="1.5"/>
<rect x="445.65" y="626.20" width="22.10" height="32.25" fill="url(#hatch)" stroke="#000" stroke-width="1.5"/>
<line x1="456.7" y1="615.4" x2="456.7" y2="614.3" stroke="#000" stroke-width="1.4"/>
<line x1="450.95" y1="614.3" x2="462.45" y2="614.3" stroke="#000" stroke-width="1.5"/>
<line x1="403.5" y1="659.2" x2="475.4" y2="659.2" stroke="#000" stroke-width="1.8"/>
<line x1="421.5" y1="659.2" x2="421.5" y2="662.4000000000001" stroke="#000" stroke-width="1.4"/>
<line x1="456.9" y1="659.2" x2="456.9" y2="662.4000000000001" stroke="#000" stroke-width="1.4"/>
<text transform="translate(404.8,670.8) scale(1,1.0)" font-size="8.8" text-anchor="start" font-family='"Liberation Serif", serif' font-weight="normal" fill="#000"  textLength="67.5" lengthAdjust="spacingAndGlyphs">KGF(+/-) KGF(-/-)</text>
<g transform="translate(385.70,611.25) rotate(-90) scale(1,1.12)">
<text x="0" y="3.55" font-size="10.76" text-anchor="middle" font-family='"Liberation Serif", serif' textLength="111.10" lengthAdjust="spacingAndGlyphs">CELL NUMBERS (x10<tspan font-size="7.75" dy="-5.17">6</tspan><tspan dy="5.17">)</tspan></text>
</g>
<rect x="468.85" y="572.05" width="12.90" height="6.00" fill="url(#hatch)" stroke="#000" stroke-width="1.5"/>
<rect x="468.85" y="584.75" width="12.90" height="5.50" fill="#fff" stroke="#000" stroke-width="1.5"/>
<text transform="translate(482.6,578.1) scale(1,1.08)" font-size="10.8" text-anchor="start" font-family='"Liberation Serif", serif' font-weight="normal" fill="#000" >DONOR</text>
<text transform="translate(482.6,590.5) scale(1,1.08)" font-size="10.8" text-anchor="start" font-family='"Liberation Serif", serif' font-weight="normal" fill="#000" >HOST</text>
</svg></body></html>
